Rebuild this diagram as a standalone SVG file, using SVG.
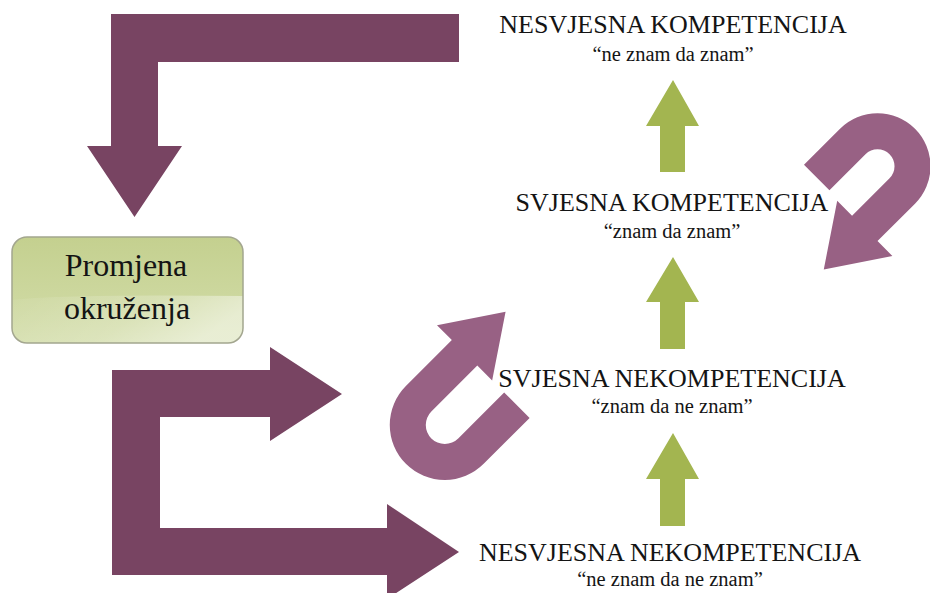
<svg xmlns="http://www.w3.org/2000/svg" width="930" height="593" viewBox="0 0 930 593">
  <defs>
    <style>
      .bend { fill: #784462; }
      .uturn { fill: #986184; }
      .step { fill: #A3B550; }
      .title { font-family: "Liberation Serif", "Times New Roman", serif; font-size: 26px; fill: #141414; text-anchor: middle; }
      .sub { font-family: "Liberation Serif", "Times New Roman", serif; font-size: 20.5px; fill: #141414; text-anchor: middle; }
      .boxtext { font-family: "Liberation Serif", "Times New Roman", serif; font-size: 32px; fill: #141414; text-anchor: middle; }
    </style>
    <linearGradient id="boxFill" x1="0" y1="0" x2="0" y2="1">
      <stop offset="0" stop-color="#C4D08F"/>
      <stop offset="1" stop-color="#D3DDAA"/>
    </linearGradient>
    <linearGradient id="boxGloss" x1="0" y1="0" x2="1" y2="0.3">
      <stop offset="0" stop-color="#FFFFFF" stop-opacity="0.05"/>
      <stop offset="0.6" stop-color="#FFFFFF" stop-opacity="0.22"/>
      <stop offset="1" stop-color="#FFFFFF" stop-opacity="0.5"/>
    </linearGradient>
    <clipPath id="boxClip">
      <rect x="12" y="237" width="231" height="106" rx="15" ry="15"/>
    </clipPath>
  </defs>

  <!-- connectors -->
  <g id="connectors">
    <!-- bent arrow from the top stage down to the box -->
    <path class="bend" d="M459,14 L111,14 L111,146 L87,146 L134.5,217 L182,146 L158,146 L158,62 L459,62 Z"/>
    <!-- bracket arrow from the box into the lower stages -->
    <path class="bend" d="M342,394 L270,347 L270,370 L112,370 L112,575 L387,575 L387,599 L459,552 L387,504 L387,528 L160,528 L160,417 L270,417 L270,441 Z"/>
    <!-- upward steps between stages -->
    <path class="step" d="M673,80 L699,126 L685,126 L685,172 L660,172 L660,126 L646,126 Z"/>
    <path class="step" d="M673,257 L699,302 L685,302 L685,349 L660,349 L660,302 L646,302 Z"/>
    <path class="step" d="M673,433 L699,479 L685,479 L685,526 L660,526 L660,479 L646,479 Z"/>
    <!-- U-turn arrows, drawn along a 45 degree axis -->
    <path class="uturn" transform="rotate(-45)" d="M79,670 L79,634 L14,634 A19,19 0 0 1 14,596 L79,596 L79,617 L137,578 L79,539 L79,560 L14,560 A55,55 0 0 0 14,670 Z"/>
    <path class="uturn" transform="rotate(-45)" d="M452,685 L503,685 A53,53 0 0 1 503,791 L450,791 L450,812 L392,773 L450,734 L450,755 L503,755 A17,17 0 0 0 503,721 L452,721 Z"/>
  </g>

  <!-- environment change box -->
  <g id="promjena">
    <rect x="12" y="237" width="231" height="106" rx="15" ry="15" fill="url(#boxFill)"/>
    <g clip-path="url(#boxClip)">
      <path d="M12,300 Q60,294 243,296 L243,343 L12,343 Z" fill="url(#boxGloss)"/>
    </g>
    <rect x="12" y="237" width="231" height="106" rx="15" ry="15" fill="none" stroke="#A3A68F" stroke-width="1.5"/>
    <text class="boxtext" x="126" y="276">Promjena</text>
    <text class="boxtext" x="127" y="319">okruženja</text>
  </g>

  <g id="nesvjesna-kompetencija">
    <text class="title" x="673" y="33">NESVJESNA KOMPETENCIJA</text>
    <text class="sub" x="673" y="61">“ne znam da znam”</text>
  </g>

  <g id="svjesna-kompetencija">
    <text class="title" x="672" y="211">SVJESNA KOMPETENCIJA</text>
    <text class="sub" x="672" y="238">“znam da znam”</text>
  </g>

  <g id="svjesna-nekompetencija">
    <text class="title" x="672" y="387">SVJESNA NEKOMPETENCIJA</text>
    <text class="sub" x="672" y="413">“znam da ne znam”</text>
  </g>

  <g id="nesvjesna-nekompetencija">
    <text class="title" x="670" y="561">NESVJESNA NEKOMPETENCIJA</text>
    <text class="sub" x="670" y="586">“ne znam da ne znam”</text>
  </g>
</svg>
